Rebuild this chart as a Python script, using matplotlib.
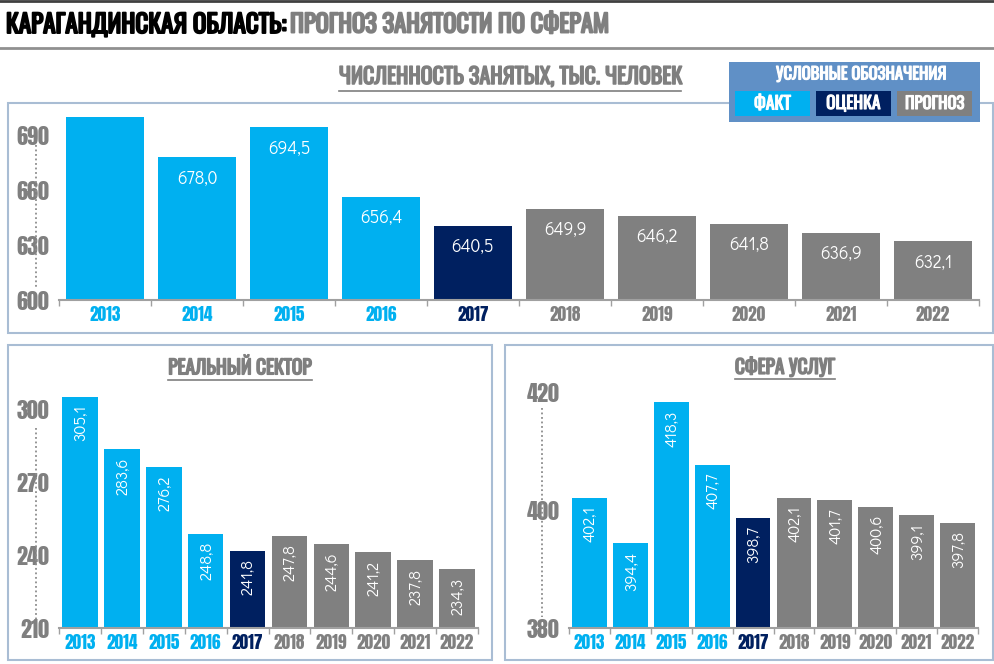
import matplotlib.pyplot as plt
import matplotlib.patches as mpatches
import matplotlib.patheffects as pe
from matplotlib.lines import Line2D
from matplotlib import font_manager
import numpy as np

# data
years = ['2013', '2014', '2015', '2016', '2017', '2018', '2019', '2020', '2021', '2022']
status = ['fact', 'fact', 'fact', 'fact', 'estimate',
          'forecast', 'forecast', 'forecast', 'forecast', 'forecast']
total = [699.9, 678.0, 694.5, 656.4, 640.5, 649.9, 646.2, 641.8, 636.9, 632.1]
total_shown = [False, True, True, True, True, True, True, True, True, True]
real_sector = [305.1, 283.6, 276.2, 248.8, 241.8, 247.8, 244.6, 241.2, 237.8, 234.3]
services = [402.1, 394.4, 418.3, 407.7, 398.7, 402.1, 401.7, 400.6, 399.1, 397.8]

colors = {'fact': '#00B0F0', 'estimate': '#002060', 'forecast': '#808080'}
legend_names = {'fact': 'ФАКТ', 'estimate': 'ОЦЕНКА', 'forecast': 'ПРОГНОЗ'}

available = set(f.name for f in font_manager.fontManager.ttflist)


def pick(*names):
    for n in names:
        if n in available:
            return n
    return 'DejaVu Sans'


HEAVY = [pick('Anton', 'Oswald', 'Fjalla One'), 'DejaVu Sans']
CYR = [pick('Oswald', 'Roboto Condensed', 'PT Sans Narrow',
            'Sofia Sans Extra Condensed', 'Encode Sans Condensed'), 'DejaVu Sans']
LIGHT = [pick('Didact Gothic', 'Questrial', 'Mulish', 'Lato'), 'DejaVu Sans']
GRAY = '#7F7F7F'
BOX = '#A9BDD4'

W, H = 995, 664
fig = plt.figure(figsize=(W / 100, H / 100), dpi=100)


def fx(px):
    return px / W


def fy(py):
    return 1 - py / H


def box(x0, y0, x1, y1, **kw):
    r = mpatches.Rectangle((fx(x0), fy(y1)), fx(x1) - fx(x0), fy(y0) - fy(y1),
                           transform=fig.transFigure, **kw)
    fig.add_artist(r)


def fit(t, width_px):
    # scale the font so the text spans the width seen in the reference
    fig.canvas.draw()
    w = t.get_window_extent().width
    t.set_fontsize(t.get_fontsize() * width_px / w)
    fig.canvas.draw()
    return t.get_window_extent().transformed(fig.transFigure.inverted())


def label(x, y, text, width_px, color, ha='center', stroke=1.1, **kw):
    t = fig.text(fx(x), fy(y), text, ha=ha, va='center', fontsize=12,
                 family=CYR, fontweight='bold', color=color, **kw)
    # thicken the strokes to look like the heavy condensed face of the original
    t.set_path_effects([pe.withStroke(linewidth=stroke, foreground=color)])
    return fit(t, width_px)


def underlined(xc, yc, text, width_px):
    bb = label(xc, yc, text, width_px, GRAY)
    fig.add_artist(Line2D([bb.x0, bb.x1], [bb.y0 - 0.004, bb.y0 - 0.004],
                          color=GRAY, lw=1.2, transform=fig.transFigure))


def dotted(x, y0, y1):
    fig.add_artist(Line2D([fx(x), fx(x)], [fy(y0), fy(y1)], ls=(0, (1, 1.5)),
                          color='#8C8C8C', lw=1.3, transform=fig.transFigure))


def bar_panel(rect, vals, ylim, yticks, label_size, rotated, shown=None):
    ax = fig.add_axes(rect)
    x = np.arange(len(vals))
    bar_colors = [colors[s] for s in status]
    ax.bar(x, vals, width=0.85, color=bar_colors, zorder=2)
    ax.set_xlim(-0.5, len(vals) - 0.5)
    ax.set_ylim(*ylim)
    ax.set_yticks(yticks)
    ax.set_yticklabels([str(t) for t in yticks], fontsize=16,
                       family=HEAVY, color=GRAY)
    ax.tick_params(axis='y', length=0, pad=7)
    ax.set_xticks(x)
    ax.set_xticklabels(years, fontsize=12.5, family=HEAVY)
    for lbl, s in zip(ax.get_xticklabels(), status):
        lbl.set_color(colors[s])
    ax.tick_params(axis='x', length=0, pad=4)
    ax.set_xticks(np.arange(len(vals) + 1) - 0.5, minor=True)
    ax.tick_params(axis='x', which='minor', length=4, color='#A0A0A0', width=1)
    for sp in ['top', 'right', 'left']:
        ax.spines[sp].set_visible(False)
    ax.spines['bottom'].set_color('#A0A0A0')
    ax.spines['bottom'].set_linewidth(1.5)
    ax.patch.set_alpha(0)
    for i, v in enumerate(vals):
        if shown is not None and not shown[i]:
            continue
        txt = f'{v:.1f}'.replace('.', ',')
        if rotated:
            ax.annotate(txt, (i, v), xytext=(0, -6), textcoords='offset points',
                        ha='center', va='top', rotation=90, color='white',
                        fontsize=label_size, family=LIGHT)
        else:
            ax.annotate(txt, (i, v), xytext=(0, -9), textcoords='offset points',
                        ha='center', va='top', color='white',
                        fontsize=label_size, family=LIGHT)
    return ax


# header
fig.add_artist(Line2D([0, 1], [fy(1), fy(1)], color='#404040', lw=2,
                      transform=fig.transFigure))
fig.add_artist(Line2D([0, 1], [fy(48), fy(48)], color='#909090', lw=2,
                      transform=fig.transFigure))
label(6, 25, 'КАРАГАНДИНСКАЯ ОБЛАСТЬ:', 280, 'black', ha='left', stroke=1.4)
label(290, 25, 'ПРОГНОЗ ЗАНЯТОСТИ ПО СФЕРАМ', 318, GRAY, ha='left', stroke=1.4)

# panel boxes
box(8, 103, 993, 333, facecolor='none', edgecolor=BOX, lw=1.5)
box(8, 345, 492, 660, facecolor='none', edgecolor=BOX, lw=1.5)
box(505, 345, 993, 660, facecolor='none', edgecolor=BOX, lw=1.5)

# top panel
bar_panel([fx(59), fy(300), fx(979) - fx(59), fy(110) - fy(300)], total,
          (600, 704), [600, 630, 660, 690], 12.5, False, total_shown)
dotted(36, 145, 288)
underlined(510, 77, 'ЧИСЛЕННОСТЬ ЗАНЯТЫХ, ТЫС. ЧЕЛОВЕК', 343)

# legend box
box(729, 62, 980, 122, facecolor='#6090C6', edgecolor='none', zorder=3)
label(861, 74, 'УСЛОВНЫЕ ОБОЗНАЧЕНИЯ', 170, 'white', stroke=0.8, zorder=4)
legend_widths = {'fact': 37, 'estimate': 54, 'forecast': 59}
for i, key in enumerate(['fact', 'estimate', 'forecast']):
    x0 = 735 + i * 81
    box(x0, 91, x0 + 75, 116, facecolor=colors[key], edgecolor='none', zorder=4)
    label(x0 + 37.5, 103.5, legend_names[key], legend_widths[key], 'white',
          stroke=0.8, zorder=5)

# bottom left panel
bar_panel([fx(59), fy(628), fx(478) - fx(59), fy(385) - fy(628)], real_sector,
          (210, 310), [210, 240, 270, 300], 11.5, True)
dotted(36, 428, 620)
underlined(240, 367, 'РЕАЛЬНЫЙ СЕКТОР', 143)

# bottom right panel
bar_panel([fx(569), fy(628), fx(978) - fx(569), fy(385) - fy(628)], services,
          (380, 421.2), [380, 400, 420], 11.5, True)
dotted(542, 408, 617)
underlined(785, 367, 'СФЕРА УСЛУГ', 100)

plt.savefig('out.png', dpi=100)
